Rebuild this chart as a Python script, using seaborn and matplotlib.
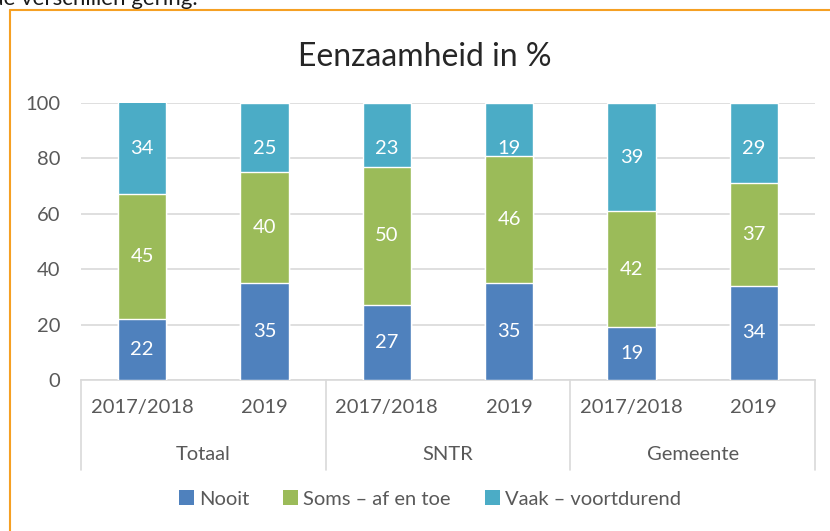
import numpy as np
import pandas as pd
import seaborn as sns
import matplotlib.pyplot as plt
from matplotlib.lines import Line2D
from matplotlib.patches import Patch

groups = ['Totaal', 'Totaal', 'SNTR', 'SNTR', 'Gemeente', 'Gemeente']
years = ['2017/2018', '2019', '2017/2018', '2019', '2017/2018', '2019']
nooit = [22, 35, 27, 35, 19, 34]
soms = [45, 40, 50, 46, 42, 37]
vaak = [34, 25, 23, 19, 39, 29]

series = ['Nooit', 'Soms – af en toe', 'Vaak – voortdurend']
colors = ['#4F81BD', '#9BBB59', '#4BACC6']

sns.set_theme(style='white')
plt.rcParams['font.family'] = ['Lato', 'DejaVu Sans']

df = pd.DataFrame({'pos': [str(i) for i in range(6)], 'groep': groups, 'jaar': years,
                   'Nooit': nooit, 'Soms': soms, 'Vaak': vaak})
df['c1'] = df['Nooit']
df['c2'] = df['Nooit'] + df['Soms']
df['c3'] = df['c2'] + df['Vaak']

fig = plt.figure(figsize=(8.3, 5.31), dpi=100)
ax = fig.add_axes([81 / 830, 1 - 380 / 531, 734 / 830, 277 / 531])

# stacked: draw cumulative totals, largest first
for col, c in zip(['c3', 'c2', 'c1'], colors[::-1]):
    sns.barplot(data=df, x='pos', y=col, color=c, width=0.395, ax=ax,
                saturation=1, zorder=3)

ax.set_xlim(-0.5, 5.5)
ax.set_ylim(0, 100)
ax.set_yticks(range(0, 101, 20))
ax.yaxis.grid(True, color='#D9D9D9', linewidth=1.2, zorder=0)
ax.set_axisbelow(True)
for s in ['top', 'right', 'left']:
    ax.spines[s].set_visible(False)
ax.spines['bottom'].set_color('#D9D9D9')
ax.spines['bottom'].set_linewidth(1.2)
ax.set_xlabel('')
ax.set_ylabel('')
ax.set_xticks(range(6))
ax.set_xticklabels(years)
ax.tick_params(axis='x', length=0, pad=14, labelsize=14.5, labelcolor='#595959')
ax.tick_params(axis='y', length=0, pad=15, labelsize=14.5, labelcolor='#595959')

# data labels
for i in range(6):
    mids = [nooit[i] / 2, nooit[i] + soms[i] / 2, min(nooit[i] + soms[i] + vaak[i] / 2, 83.5)]
    for v, m in zip([nooit[i], soms[i], vaak[i]], mids):
        ax.text(i, m, str(v), ha='center', va='center', color='white', fontsize=14.5, zorder=5)

# group separators and labels
tr = ax.get_xaxis_transform()
for xs in [-0.5, 1.5, 3.5, 5.5]:
    ax.add_line(Line2D([xs, xs], [0, -0.325], transform=tr, color='#D9D9D9',
                       linewidth=1.2, clip_on=False))
for gx, g in zip([0.5, 2.5, 4.5], ['Totaal', 'SNTR', 'Gemeente']):
    ax.text(gx, -0.27, g, transform=tr, ha='center', va='center', fontsize=14.5,
            color='#595959')

fig.text(425 / 830, 1 - 57 / 531, 'Eenzaamheid in %', ha='center', va='center',
         fontsize=23, color='#262626')

handles = [Patch(facecolor=c, edgecolor='none') for c in colors]
fig.legend(handles, series, loc='center', bbox_to_anchor=(430 / 830, 1 - 499 / 531),
           ncol=3, frameon=False, fontsize=14.5, handlelength=0.75, handleheight=0.75,
           handletextpad=0.25, columnspacing=1.7, labelcolor='#595959')

# orange frame and cut-off text above
fig.add_artist(Line2D([9.5 / 830, 9.5 / 830], [0, 1 - 10 / 531], color='#F5A023',
                      linewidth=1.5, transform=fig.transFigure))
fig.add_artist(Line2D([9.5 / 830, 1], [1 - 10 / 531, 1 - 10 / 531], color='#F5A023',
                      linewidth=1.5, transform=fig.transFigure))
fig.text(-9 / 830, 1 - 5 / 531, 'de verschillen gering.', ha='left', va='baseline',
         fontsize=16, color='#1a1a1a')

fig.savefig('out.png', dpi=100)
